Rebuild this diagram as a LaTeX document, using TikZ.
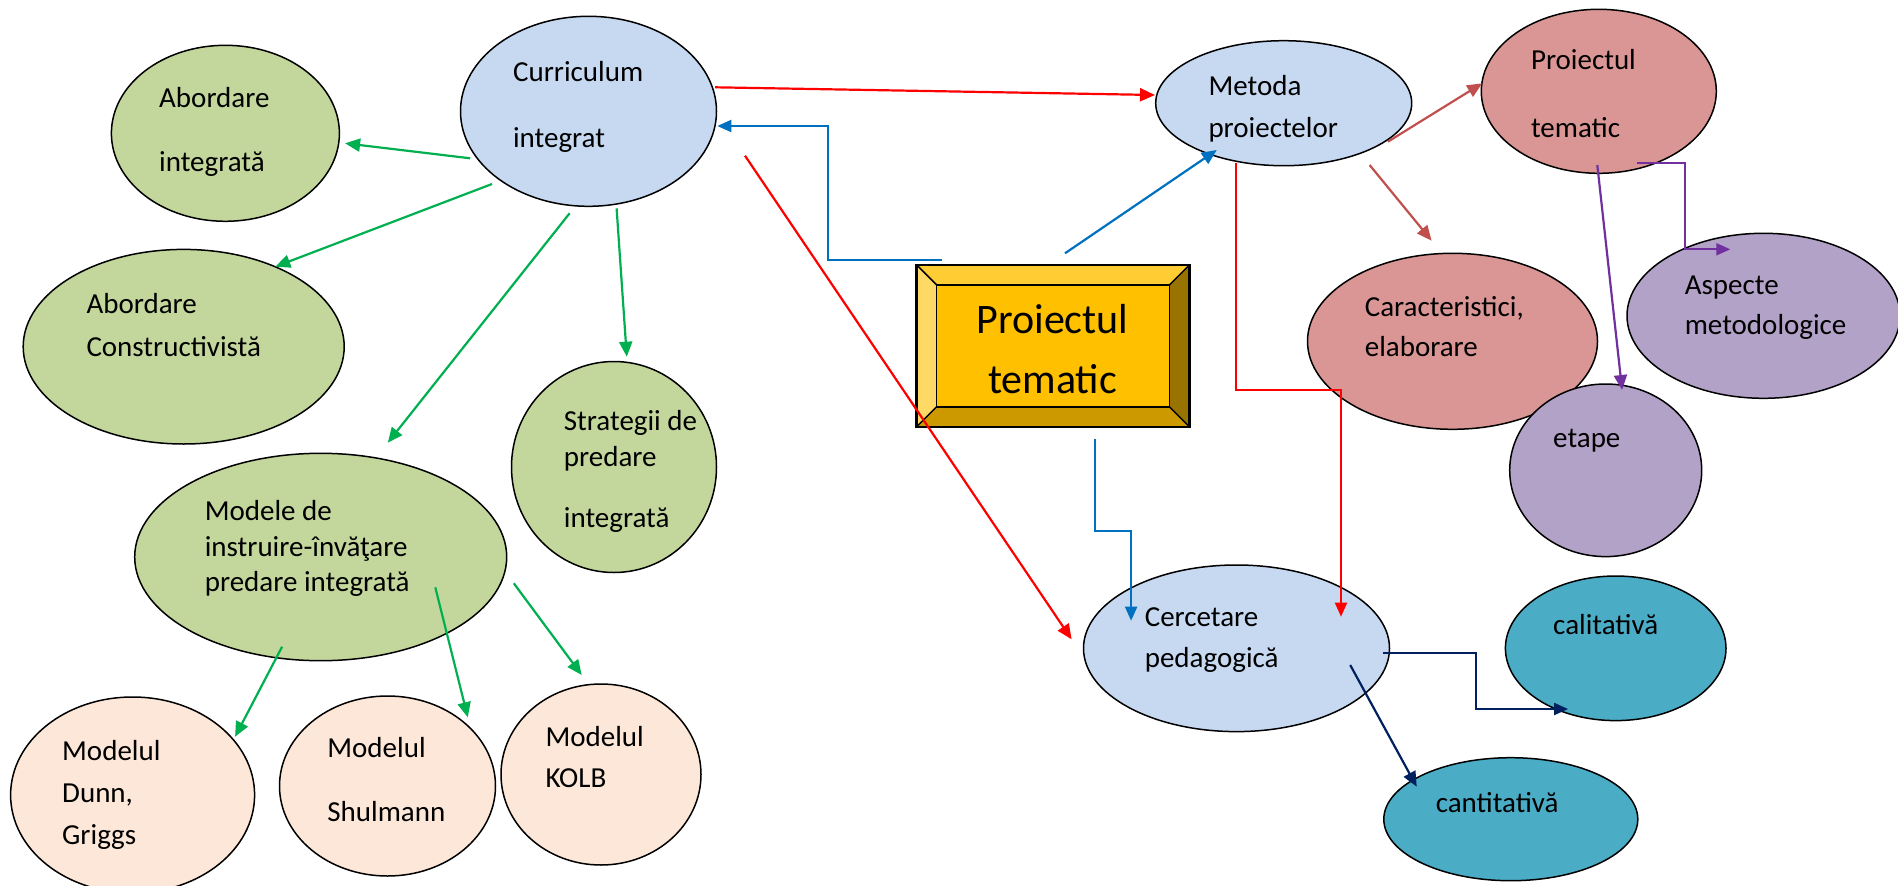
\documentclass[tikz,border=0pt]{standalone}
\usepackage{fontspec}
\setmainfont{Carlito}
\usetikzlibrary{arrows.meta,calc,shapes.geometric}
\definecolor{fblue}{HTML}{C6D9F1}
\definecolor{fgreen}{HTML}{C3D69B}
\definecolor{fpeach}{HTML}{FCE7D8}
\definecolor{fpink}{HTML}{D99694}
\definecolor{fpurple}{HTML}{B3A2C7}
\definecolor{fteal}{HTML}{4BACC6}
\definecolor{lgreen}{HTML}{00B050}
\definecolor{lred}{HTML}{FF0000}
\definecolor{lblue}{HTML}{0070C0}
\definecolor{lbrown}{HTML}{C0504D}
\definecolor{lpurple}{HTML}{7030A0}
\definecolor{lnavy}{HTML}{002060}
\definecolor{bface}{HTML}{FFC000}
\definecolor{btop}{HTML}{FFCC33}
\definecolor{bleft}{HTML}{FFD966}
\definecolor{bright}{HTML}{997300}
\definecolor{bbot}{HTML}{CC9900}
\begin{document}
\begin{tikzpicture}[x=1pt,y=-1pt,
  ell/.style={ellipse, draw=black, line width=1.5pt, inner sep=0pt},
  lbl/.style={anchor=west, inner sep=0pt, text height=18.9pt, text depth=0pt, font=\fontsize{29}{35}\selectfont},
  biglbl/.style={anchor=center, inner sep=0pt, text height=27.3pt, text depth=0pt, font=\fontsize{42}{50}\selectfont},
  con/.style={line width=2.2pt, -{Triangle[length=15pt,width=13pt]}},
  elb/.style={line width=2pt, -{Triangle[length=14pt,width=12pt]}}]
\useasboundingbox (0,0) rectangle (1898,886);
\clip (0,0) rectangle (1898,886);
\fill[white] (0,0) rectangle (1898,886);

% ellipses
\node[ell, fill=fblue, minimum width=256pt, minimum height=190pt] (cur) at (588.5,111.3) {};
\node[ell, fill=fgreen, minimum width=228pt, minimum height=176pt] (abi) at (225.4,133.3) {};
\node[ell, fill=fgreen, minimum width=321pt, minimum height=194.6pt] (abc) at (183.7,346.7) {};
\node[ell, fill=fgreen, minimum width=205pt, minimum height=211pt] (str) at (614,467) {};
\node[ell, fill=fgreen, minimum width=372pt, minimum height=207.4pt] (mod) at (320.7,557) {};
\node[ell, fill=fpeach, minimum width=244pt, minimum height=196pt] (dun) at (132.6,795) {};
\node[ell, fill=fpeach, minimum width=216pt, minimum height=180pt] (shu) at (387.5,786) {};
\node[ell, fill=fpeach, minimum width=200pt, minimum height=181pt] (kol) at (601,774.5) {};
\node[ell, fill=fblue, minimum width=256pt, minimum height=125pt] (met) at (1283.7,103.2) {};
\node[ell, fill=fpink, minimum width=235pt, minimum height=164pt] (prt) at (1598.8,91.3) {};
\node[ell, fill=fpink, minimum width=290pt, minimum height=176pt] (car) at (1452.5,341.3) {};
\node[ell, fill=fpurple, minimum width=273pt, minimum height=165pt] (asp) at (1763.5,315.8) {};
\node[ell, fill=fpurple, minimum width=192pt, minimum height=172.6pt] (eta) at (1605.7,470.3) {};
\node[ell, fill=fblue, minimum width=306pt, minimum height=166.6pt] (cer) at (1236.5,648.3) {};
\node[ell, fill=fteal, minimum width=220.6pt, minimum height=144.6pt] (cal) at (1615.7,648.3) {};
\node[ell, fill=fteal, minimum width=254pt, minimum height=123pt] (can) at (1510.8,819.2) {};

% bevel box
\node[inner sep=0pt, minimum width=272.6pt, minimum height=161.7pt] (pt) at (1053,345.85) {};
\fill[bface] ($(pt.north west)+(20,20)$) rectangle ($(pt.south east)+(-20,-20)$);
\fill[btop] (pt.north west) -- (pt.north east) -- ($(pt.north east)+(-20,20)$) -- ($(pt.north west)+(20,20)$) -- cycle;
\fill[bleft] (pt.north west) -- ($(pt.north west)+(20,20)$) -- ($(pt.south west)+(20,-20)$) -- (pt.south west) -- cycle;
\fill[bright] (pt.north east) -- (pt.south east) -- ($(pt.south east)+(-20,-20)$) -- ($(pt.north east)+(-20,20)$) -- cycle;
\fill[bbot] (pt.south west) -- (pt.south east) -- ($(pt.south east)+(-20,-20)$) -- ($(pt.south west)+(20,-20)$) -- cycle;
\draw[line width=1.5pt] ($(pt.north west)+(20,20)$) rectangle ($(pt.south east)+(-20,-20)$);
\draw[line width=1.5pt] (pt.north west) -- ($(pt.north west)+(20,20)$)
  (pt.north east) -- ($(pt.north east)+(-20,20)$)
  (pt.south west) -- ($(pt.south west)+(20,-20)$)
  (pt.south east) -- ($(pt.south east)+(-20,-20)$);
\draw[line width=2.5pt] (pt.north west) rectangle (pt.south east);
\node[biglbl] (pt-a) at (1052.5,320) {Proiectul};
\node[biglbl] (pt-b) at (1052.5,380) {tematic};

% labels
\node[lbl] (cur-a) at (512.9,71.7) {Curriculum};
\node[lbl] (cur-b) at (512.9,138.3) {integrat};
\node[lbl] (abi-a) at (159,98) {Abordare};
\node[lbl] (abi-b) at (159,162) {integrată};
\node[lbl] (abc-a) at (86.3,304) {Abordare};
\node[lbl] (abc-b) at (86.3,346.7) {Constructivistă};
\node[lbl] (str-a) at (563.7,420.7) {Strategii de};
\node[lbl] (str-b) at (563.7,456.7) {predare};
\node[lbl] (str-c) at (563.7,518.3) {integrată};
\node[lbl] (mod-a) at (204.6,510.7) {Modele de};
\node[lbl] (mod-b) at (204.6,546.7) {instruire-învăţare};
\node[lbl] (mod-c) at (204.6,581.7) {predare integrată};
\node[lbl] (dun-a) at (62,750.7) {Modelul};
\node[lbl] (dun-b) at (62,793.3) {Dunn,};
\node[lbl] (dun-c) at (62,835) {Griggs};
\node[lbl] (shu-a) at (327.2,748.3) {Modelul};
\node[lbl] (shu-b) at (327.2,811.7) {Shulmann};
\node[lbl] (kol-a) at (545.3,736.7) {Modelul};
\node[lbl] (kol-b) at (545.3,778.3) {KOLB};
\node[lbl] (met-a) at (1208.3,86) {Metoda};
\node[lbl] (met-b) at (1208.3,128.3) {proiectelor};
\node[lbl] (prt-a) at (1530.8,60) {Proiectul};
\node[lbl] (prt-b) at (1530.8,128.3) {tematic};
\node[lbl] (car-a) at (1364.6,306.7) {Caracteristici,};
\node[lbl] (car-b) at (1364.6,346.7) {elaborare};
\node[lbl] (asp-a) at (1684.6,285) {Aspecte};
\node[lbl] (asp-b) at (1684.6,325) {metodologice};
\node[lbl] (eta-a) at (1553,438.3) {etape};
\node[lbl] (cer-a) at (1144.6,616.7) {Cercetare};
\node[lbl] (cer-b) at (1144.6,658.3) {pedagogică};
\node[lbl] (cal-a) at (1553,625) {calitativă};
\node[lbl] (can-a) at (1435.6,803.3) {cantitativă};

% green connectors
\draw[con, lgreen] ($(cur)+(-118.3,47)$) -- ($(abi)+(119.7,10)$);
\draw[con, lgreen] ($(cur)+(-96.5,72.7)$) -- ($(abc)+(91.6,-80)$);
\draw[con, lgreen] ($(cur)+(-18.9,102)$) -- ($(mod)+(67.1,-114.3)$);
\draw[con, lgreen] ($(cur)+(28.1,97)$) -- ($(str)+(12.8,-110.3)$);
\draw[con, lgreen] ($(mod)+(-38.6,89.7)$) -- ($(dun)+(102.5,-58.3)$);
\draw[con, lgreen] ($(mod)+(114.6,30.3)$) -- ($(shu)+(80.3,-68.7)$);
\draw[con, lgreen] ($(mod)+(193.1,26.3)$) -- ($(kol)+(-19.3,-99.5)$);

% red connectors
\draw[con, lred] ($(cur)+(126.5,-24)$) -- ($(met)+(-128.7,-8.2)$);
\draw[con, lred] ($(cur)+(156.5,44.4)$) -- ($(cer)+(-164.9,-9)$);
\draw[elb, lred] ($(met)+(-48.1,59.5)$) -- ++(0,227.3) -| ($(cer)+(104.5,-31.6)$);

% blue connectors
\draw[elb, lblue] ($(pt)+(-111.3,-85.85)$) -- ++(-113.4,0) |- ($(cur)+(128.8,14.7)$);
\draw[con, lblue] ($(pt)+(12,-92.55)$) -- ($(met)+(-66.9,46.8)$);
\draw[elb, lblue] ($(pt)+(42.4,93.45)$) -- ++(0,91.4) -| ($(cer)+(-105.4,-27.6)$);

% brown connectors
\draw[con, lbrown] ($(met)+(104.2,38.5)$) -- ($(prt)+(-116.6,-8)$);
\draw[con, lbrown] ($(met)+(85.9,61.8)$) -- ($(car)+(-20.9,-100.6)$);

% purple connectors
\draw[elb, lpurple] ($(prt)+(38.2,71.4)$) -- ++(47.6,0) |- ($(asp)+(-33.2,-66.5)$);
\draw[con, lpurple] ($(prt)+(-1.5,73.7)$) -- ($(eta)+(16.4,-80.3)$);

% navy connectors
\draw[elb, lnavy] ($(cer)+(146.1,4.4)$) -- ++(93.6,0) |- ($(cal)+(-47.6,60.7)$);
\draw[con, lnavy] ($(cer)+(113.7,16.7)$) -- ($(can)+(-94.1,-32.5)$);
\end{tikzpicture}
\end{document}
